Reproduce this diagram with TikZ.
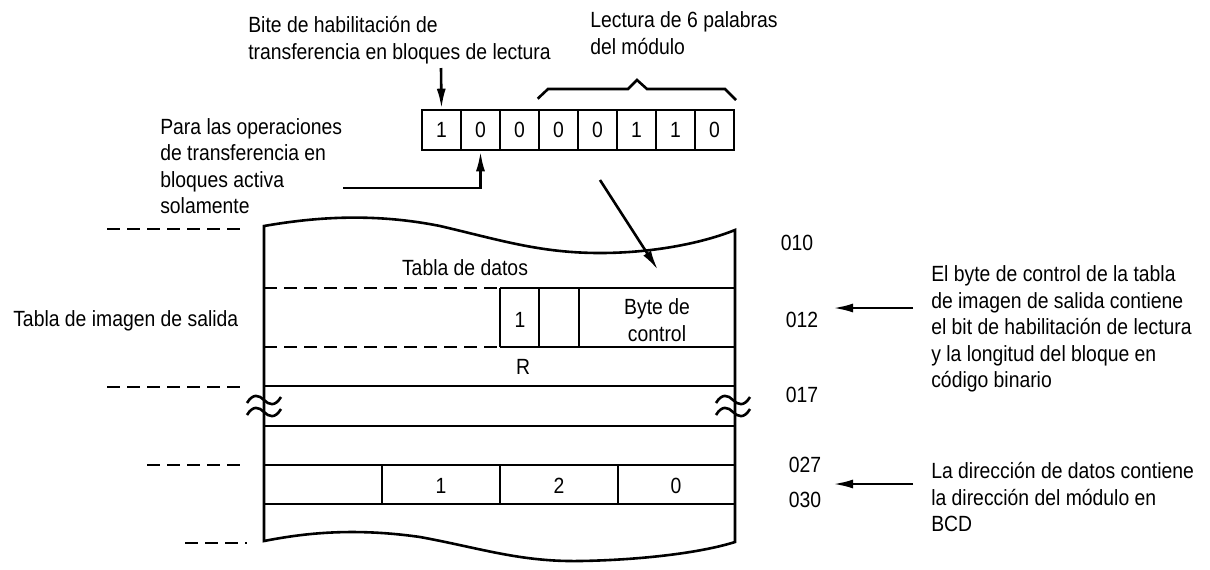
\documentclass[tikz,border=0pt]{standalone}
\usepackage{fontspec}
\setmainfont{Liberation Sans}[FakeStretch=0.88]
\usetikzlibrary{arrows.meta}

\begin{document}
\begin{tikzpicture}[x=0.5pt, y=-0.5pt, line width=1.3pt,
    every node/.style={font=\fontsize{11}{13.25}\selectfont},
    >={Latex[length=10pt, width=4.5pt]},
    bitbox/.style={draw, minimum width=19.5pt, minimum height=20pt, inner sep=0pt},
    txt/.style={inner sep=0pt, align=left},
    cut/.style={dash pattern=on 6.5pt off 3.5pt}]
    \useasboundingbox (0,0) rectangle (1210,569);

    % the eight bits
    \node[bitbox](b1) at (441.5,130) {1};
    \node[bitbox](b2) at (480.5,130) {0};
    \node[bitbox](b3) at (519.5,130) {0};
    \node[bitbox](b4) at (558.5,130) {0};
    \node[bitbox](b5) at (597.5,130) {0};
    \node[bitbox](b6) at (636.5,130) {1};
    \node[bitbox](b7) at (675.5,130) {1};
    \node[bitbox](b8) at (714.5,130) {0};

    \node[txt, anchor=west](bite) at (247,40) {Bite de habilitación de\\ transferencia en bloques de lectura};
    \node[txt, anchor=west](lect) at (589,33) {Lectura de 6 palabras\\ del módulo};
    \node[txt, anchor=west](para) at (159,166) {Para las operaciones\\ de transferencia en\\ bloques activa\\ solamente};

    \coordinate (bitestart) at (441,68);
    \coordinate (parastart) at (343,188);
    \coordinate (lectstart) at (600,180);
    \coordinate (lecttip) at (658,270);
    \path[->] (bitestart) edge (b1.north);
    \draw[->] (parastart) -| (b2.south);
    \path[->] (lectstart) edge (lecttip);

    % brace over the six words
    \draw (b4.north west) ++(0,-10) -- (548,89) -- (628,89) -- (637,80) -- (647,89) -- (725,89) -- (736,100);

    % output image table
    \draw (264,226) .. controls (310,218) and (370,212) .. (440,226)
        .. controls (500,240) and (540,253) .. (600,253)
        .. controls (650,253) and (700,244) .. (735,230)
        -- (735,542)
        .. controls (700,553) and (640,560) .. (580,561)
        .. controls (520,562) and (480,548) .. (420,537)
        .. controls (350,527) and (300,534) .. (264,541) -- cycle;

    \draw[cut] (264,288) -- (500,288);
    \draw (500,288) -- (735,288);
    \draw[cut] (264,347) -- (500,347);
    \draw (500,347) -- (735,347);
    \draw (500,288) -- (500,347);
    \draw (539,288) -- (539,347);
    \draw (579,288) -- (579,347);
    \draw (264,386) -- (735,386);
    \draw (264,426) -- (735,426);
    \draw (264,465) -- (735,465);
    \draw (264,504) -- (735,504);
    \draw (382,465) -- (382,504);
    \draw (500,465) -- (500,504);
    \draw (618,465) -- (618,504);

    % break marks
    \draw (247,403) .. controls +(6,-10) and +(-5,-5) .. (264,400) .. controls +(5,5) and +(-6,10) .. (281,397);
    \draw (247,415) .. controls +(6,-10) and +(-5,-5) .. (264,412) .. controls +(5,5) and +(-6,10) .. (281,409);
    \draw (716,403) .. controls +(6,-10) and +(-5,-5) .. (733,400) .. controls +(5,5) and +(-6,10) .. (750,397);
    \draw (716,415) .. controls +(6,-10) and +(-5,-5) .. (733,412) .. controls +(5,5) and +(-6,10) .. (750,409);

    % dashes on the left
    \draw[cut] (107,229) -- (247,229);
    \draw[cut] (107,387) -- (247,387);
    \draw[cut] (147,465) -- (247,465);
    \draw[cut] (185,543) -- (247,543);

    \node[txt, anchor=west](tis) at (12,321) {Tabla de imagen de salida};
    \node(td) at (465,268) {Tabla de datos};
    \node(rbit) at (520,320) {1};
    \node[align=center, inner sep=0pt](ctlbyte) at (657,320) {Byte de\\ control};
    \node(rr) at (523,367) {R};
    \node(d1) at (441,486) {1};
    \node(d2) at (559,486) {2};
    \node(d3) at (676,486) {0};

    % word numbers
    \node(n010) at (797,243) {010};
    \node(n012) at (802,320) {012};
    \node(n017) at (802,395) {017};
    \node(n027) at (805,465) {027};
    \node(n030) at (805,500) {030};

    \node[txt, anchor=west](ctl) at (930,329) {El byte de control de la tabla\\ de imagen de salida contiene\\ el bit de habilitación de lectura\\ y la longitud del bloque en\\ código binario};
    \node[txt, anchor=west](dir) at (930,497) {La dirección de datos contiene\\ la dirección del módulo en\\ BCD};

    \coordinate (ctlstart) at (913,308);
    \coordinate (ctltip) at (833,308);
    \coordinate (dirstart) at (913,484);
    \coordinate (dirtip) at (833,484);
    \path[->] (ctlstart) edge (ctltip);
    \path[->] (dirstart) edge (dirtip);

\end{tikzpicture}
\end{document}
